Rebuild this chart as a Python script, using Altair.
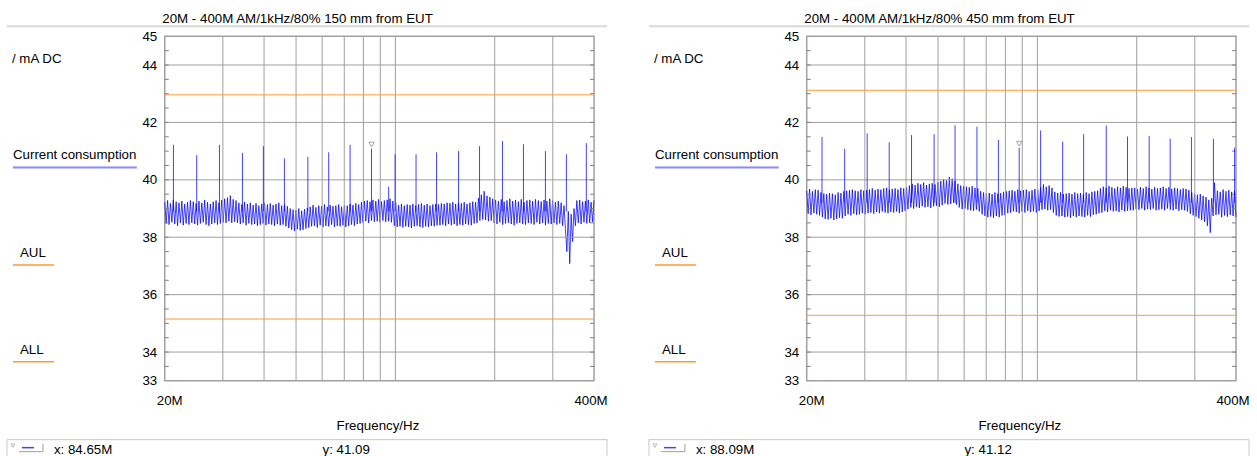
import altair as alt
import pandas as pd

FONT = "Liberation Sans, Arial, sans-serif"
FS = 13.33

# Current consumption (mA DC) over the sweep, antenna 150 mm from EUT
current_150 = [
    39.22, 38.48, 39.28, 38.44, 39.18, 38.52, 39.30, 38.46, 39.24, 38.40,
    39.20, 38.50, 39.26, 38.42, 39.16, 38.48, 39.22, 38.44, 39.28, 38.50,
    39.24, 38.46, 39.18, 38.42, 39.26, 38.48, 39.20, 38.52, 39.30, 38.44,
    39.22, 38.40, 39.16, 38.46, 39.24, 38.50, 39.28, 38.44, 39.20, 38.48,
    39.30, 38.52, 39.34, 38.50, 39.38, 38.56, 39.45, 38.50, 39.32, 38.54,
    39.28, 38.50,
    39.20, 38.46, 39.14, 38.50, 39.22, 38.42, 39.16, 38.48, 39.20, 38.44,
    39.12, 38.46, 39.18, 38.40, 39.10, 38.44, 39.16, 38.48, 39.20, 38.42,
    39.14, 38.46, 39.18, 38.44, 39.12, 38.40, 39.16, 38.46, 39.20, 38.42,
    39.10, 38.44, 39.14, 38.38, 39.08,
    38.32, 39.00, 38.26, 38.96, 38.22, 38.94, 38.28, 39.00, 38.24, 38.92,
    38.26, 38.98, 38.30, 39.02,
    38.34, 39.06, 38.38, 39.12, 38.40, 39.04, 38.34, 39.10, 38.42, 39.08,
    38.36, 39.14, 38.40, 39.06, 38.38, 39.12, 38.44, 39.08, 38.36, 39.10,
    38.40, 39.14, 38.38, 39.06, 38.42, 39.12, 38.36, 39.10, 38.40, 39.16,
    38.44, 39.12, 38.40, 39.18, 38.46, 39.14, 38.48,
    39.22, 38.52, 39.26, 38.56, 39.28, 38.50, 39.24, 38.58, 39.30, 38.54,
    39.26, 38.56, 39.32, 38.52, 39.24, 38.58, 39.28, 38.54, 39.30, 38.56,
    39.34, 38.52, 39.26,
    38.40, 39.20, 38.36, 39.12, 38.38, 39.16, 38.34, 39.10, 38.38, 39.14,
    38.36, 39.12, 38.32, 39.16, 38.38, 39.10, 38.40, 39.14, 38.36, 39.18,
    38.34, 39.12, 38.38, 39.16, 38.36, 39.10, 38.40, 39.14, 38.38, 39.16,
    38.42,
    39.14, 38.42, 39.18, 38.44, 39.16, 38.40, 39.20, 38.46, 39.18, 38.42,
    39.22, 38.46, 39.16, 38.40, 39.20, 38.44, 39.18, 38.42, 39.22, 38.46,
    39.16, 38.44, 39.20, 38.42, 39.24, 38.48, 39.22, 38.50,
    39.36, 38.58, 39.48, 38.62, 39.60, 38.60, 39.44, 38.56, 39.40, 38.58,
    39.34,
    38.50, 39.30, 38.46, 39.26, 38.52, 39.32, 38.44, 39.24, 38.48, 39.28,
    38.50, 39.34, 38.46, 39.26, 38.42, 39.30, 38.48, 39.24, 38.50, 39.32,
    38.46, 39.22, 38.44, 39.28, 38.50, 39.30, 38.48, 39.26, 38.44, 39.32,
    38.52, 39.28, 38.46, 39.24, 38.50, 39.30, 38.42, 39.26, 38.48, 39.34,
    38.46, 39.28, 38.50, 39.22, 38.44, 39.26, 38.48,
    39.20, 38.40, 39.10, 38.30, 37.50, 38.90, 37.08, 38.80, 37.85, 39.00,
    38.40,
    39.28, 38.50, 39.30, 38.46, 39.24, 38.52, 39.26, 38.48, 39.30, 38.50,
    39.22, 38.54, 39.28,
]

# Current consumption (mA DC) over the sweep, antenna 450 mm from EUT
current_450 = [
    39.62, 38.82, 39.68, 38.78, 39.60, 38.84, 39.66, 38.80, 39.64, 38.76,
    39.56, 38.70, 39.52, 38.64, 39.50, 38.62, 39.54, 38.66, 39.52, 38.60,
    39.48, 38.64, 39.56, 38.68, 39.54, 38.66,
    39.60, 38.74, 39.62, 38.80, 39.64, 38.76, 39.66, 38.82, 39.62, 38.78,
    39.60, 38.80, 39.66, 38.84, 39.62, 38.80, 39.64,
    38.84, 39.66, 38.86, 39.70, 38.82, 39.64, 38.88, 39.68, 38.84, 39.66,
    38.90, 39.70, 38.86, 39.72, 38.84, 39.66, 38.88, 39.68, 38.86, 39.70,
    38.90, 39.66, 38.84, 39.72, 38.88, 39.70, 38.92, 39.74,
    38.98, 39.80, 39.04, 39.86, 39.00, 39.82, 39.06, 39.88, 39.02, 39.84,
    39.08, 39.90, 39.04, 39.82, 39.06, 39.86, 39.02, 39.88, 39.08, 39.84,
    39.10, 39.92, 39.06,
    39.96, 39.12, 40.02, 39.18, 39.98, 39.14, 40.10, 39.16, 40.04, 39.20,
    39.96, 39.14,
    39.86, 39.04, 39.80, 38.98, 39.78, 39.00, 39.76, 38.96, 39.74, 38.94,
    39.78, 38.92, 39.72, 38.96, 39.70, 38.90,
    39.60, 38.80, 39.56, 38.74, 39.52, 38.70, 39.54, 38.72, 39.50, 38.68,
    39.56, 38.74, 39.52, 38.70, 39.54, 38.76, 39.58, 38.78, 39.60,
    38.84, 39.62, 38.86, 39.64, 38.90, 39.60, 38.88, 39.66, 38.84, 39.62,
    38.90, 39.64, 38.86, 39.66, 38.92, 39.60, 38.88, 39.64, 38.90, 39.68,
    38.86, 39.66, 38.92,
    39.74, 38.96, 39.84, 38.98, 39.76, 38.94, 39.80, 38.96, 39.72,
    38.86, 39.58, 38.76, 39.54, 38.72, 39.56, 38.74, 39.50, 38.70, 39.52,
    38.72, 39.54, 38.68, 39.50, 38.74, 39.56, 38.70, 39.52, 38.74, 39.54,
    38.72, 39.50, 38.70, 39.56, 38.76, 39.52, 38.72, 39.58, 38.78, 39.60,
    38.80, 39.62, 38.84,
    39.70, 38.86, 39.76, 38.92, 39.72, 38.88, 39.78, 38.94, 39.74, 38.90,
    39.70, 38.92, 39.76, 38.88, 39.72, 38.94, 39.78, 38.90, 39.74, 38.92,
    39.70, 38.94, 39.72,
    38.94, 39.72, 38.98, 39.68, 38.96, 39.74, 39.00, 39.70, 38.94, 39.76,
    38.98, 39.72, 38.96, 39.68, 39.00, 39.74, 38.94, 39.70, 38.96, 39.72,
    38.98, 39.76, 38.94, 39.70, 39.00, 39.74, 38.96, 39.68, 38.94, 39.72,
    38.98, 39.70, 38.92, 39.66, 38.96, 39.70, 38.94, 39.68, 38.90, 39.64,
    38.82, 39.56, 38.76, 39.52, 38.72, 39.48, 38.66, 39.50, 38.60, 39.44,
    38.54, 39.40, 38.40, 39.30, 38.16, 39.36,
    38.74, 39.90, 38.78, 39.62, 38.80, 39.58, 38.70, 39.66, 38.76, 39.60,
    38.72, 39.64, 38.78, 39.58, 38.74, 39.62, 38.70,
]

# Sweep frequencies: from 20 MHz in 1 % logarithmic steps
START_HZ = 20e6
STEP = 1.01

# Narrow peaks (frequency in MHz, peak current in mA)
peak_mhz_150 = [21.25, 25.0, 29.3, 34.4, 39.8, 46.1, 54.3, 62.8, 72.9, 95.4,
                99.8, 115.5, 133.3, 155.4, 179.9, 211.1, 244.4, 284.9, 329.8, 379.0]
peak_ma_150 = [41.22, 40.86, 41.22, 40.94, 41.17, 40.75, 40.80, 40.96, 41.22, 39.76,
               40.89, 40.89, 40.96, 41.00, 41.17, 41.35, 41.24, 41.00, 40.89, 41.28]
peak_mhz_450 = [22.25, 26.06, 30.5, 35.56, 41.56, 48.65, 56.3, 65.6, 76.2, 102.3,
                119.3, 138.1, 161.7, 187.6, 218.2, 252.6, 293.0, 341.6, 396.0]
peak_ma_450 = [41.49, 41.08, 41.62, 41.31, 41.56, 41.59, 41.90, 41.85, 41.39, 41.72,
               41.33, 41.59, 41.89, 41.51, 41.53, 41.43, 41.49, 41.43, 41.12]
peak_floor_150 = 38.9
peak_floor_450 = 39.2

# Marker readouts (frequency in MHz, current in mA)
marker_150 = (84.65, 41.09)
marker_450 = (88.09, 41.12)

# Upper / lower limits (AUL, ALL)
limits_150 = (42.96, 35.15)
limits_450 = (43.12, 35.28)

# Axes
y_label_values = [33, 34, 36, 38, 40, 42, 44, 45]
y_grid_values = [34, 36, 38, 40, 42, 44]
y_minor_values = [33 + 0.5 * i for i in range(1, 24)]
x_label_hz = [20e6, 400e6]
x_label_text = ["20M", "400M"]
x_grid_mhz = [30, 40, 50, 60, 70, 80, 90, 100, 200, 300]

W, H = 430, 345
GRID = "#a0a0a0"
ORANGE = "#ff9933"
BLUE = "#0000ff"

one = pd.DataFrame({"k": [0]})
x_scale = alt.Scale(type="log", domain=[20e6, 400e6], nice=False)
y_scale = alt.Scale(domain=[33, 45], nice=False, zero=False)

x_axis = alt.Axis(
    values=x_label_hz, labels=False, grid=False, ticks=False, tickSize=0, domain=False,
    title="Frequency/Hz", titleFont=FONT, titleFontSize=FS,
    titleFontWeight="normal", titleColor="black", titleBaseline="alphabetic",
    titleAlign="center", titleX=213, titleY=48.5)
y_axis = alt.Axis(
    values=y_label_values, format="d", grid=False, ticks=False, tickSize=0,
    domain=False, labelFlush=False, labelOverlap=False, labelPadding=8,
    labelFont=FONT, labelFontSize=FS, labelColor="black", title=None)


def xq(field="freq"):
    return alt.X(f"{field}:Q", scale=x_scale, axis=x_axis)


def yq(field="value"):
    return alt.Y(f"{field}:Q", scale=y_scale, axis=y_axis)


def label(txt, x, y, align="left", color="black"):
    return alt.Chart(one).mark_text(
        text=txt, align=align, baseline="alphabetic", font=FONT, fontSize=FS, color=color
    ).encode(x=alt.value(x), y=alt.value(y))


def seg(x1, x2, y1, y2, color, width=1.0):
    return alt.Chart(one).mark_rule(color=color, strokeWidth=width).encode(
        x=alt.value(x1), x2=alt.value(x2), y=alt.value(y1), y2=alt.value(y2)
    )


def panel(title, current, pk_mhz, pk_ma, pk_floor, marker, limits, corner):
    freq = [START_HZ * STEP ** n for n in range(len(current))]
    trace = pd.DataFrame({"freq": freq, "value": current})
    peaks = pd.DataFrame({
        "freq": [f * 1e6 for f in pk_mhz] + [marker[0] * 1e6],
        "value": pk_ma + [marker[1]],
    })
    mk = pd.DataFrame({"freq": [marker[0] * 1e6], "value": [marker[1]]})
    lim = pd.DataFrame({"value": list(limits)})
    hgrid = pd.DataFrame({"value": y_grid_values})
    vgrid = pd.DataFrame({"freq": [f * 1e6 for f in x_grid_mhz]})
    minor = pd.DataFrame({"value": y_minor_values})

    # invisible corner mark that pins the outer extent of the page
    anchor = alt.Chart(one).mark_rect(opacity=0).encode(
        x=alt.value(corner[0]), x2=alt.value(corner[0] + 1),
        y=alt.value(corner[1]), y2=alt.value(corner[1] + 1),
    )

    grid_h = alt.Chart(hgrid).mark_rule(color=GRID, strokeWidth=1).encode(y=yq())
    grid_v = alt.Chart(vgrid).mark_rule(color=GRID, strokeWidth=1).encode(x=xq())
    ticks_l = alt.Chart(minor).mark_rule(color="#808080").encode(
        x=alt.value(0), x2=alt.value(4), y=yq())
    ticks_r = alt.Chart(minor).mark_rule(color="#808080").encode(
        x=alt.value(W - 4), x2=alt.value(W), y=yq())
    limit_lines = alt.Chart(lim).mark_rule(color=ORANGE, strokeWidth=1).encode(y=yq())

    line = alt.Chart(trace).mark_line(color=BLUE, strokeWidth=1, opacity=0.75).encode(
        x=xq(), y=yq(), order="freq:Q")
    spikes = alt.Chart(peaks).mark_rule(color=BLUE, strokeWidth=1, opacity=0.75).encode(
        x=xq(), y=yq(), y2=alt.datum(pk_floor))
    marker_pt = alt.Chart(mk).mark_point(
        shape="triangle-down", filled=False, color="#808080", size=30,
        strokeWidth=1, yOffset=-4).encode(x=xq(), y=yq())

    # frequency labels at the ends of the log axis
    x_labels = [
        alt.Chart(pd.DataFrame({"freq": [hz], "txt": [txt]})).mark_text(
            baseline="alphabetic", font=FONT, fontSize=FS, color="black", dx=dx
        ).encode(x=xq(), y=alt.value(369), text="txt:N")
        for hz, txt, dx in zip(x_label_hz, x_label_text, (5, -3))
    ]

    header = [
        label(title, 133, -13, align="center"),
        seg(-158, 443, -10, -10, "#d8d8d8", 2),
    ]
    legend = [
        label("/ mA DC", -153, 26.5),
        label("Current consumption", -152, 122.5),
        seg(-152, -28, 131.5, 131.5, "#8888ff", 2),
        label("AUL", -145, 221),
        seg(-152, -111, 229, 229, ORANGE, 1.5),
        label("ALL", -145, 318.5),
        seg(-152, -111, 326, 326, ORANGE, 1.5),
    ]
    readout = [
        seg(-158, 443, 404, 404, "#c8c8c8"),
        seg(-158, -158, 404, 420, "#c8c8c8"),
        seg(443, 443, 404, 420, "#c8c8c8"),
        alt.Chart(one).mark_point(shape="triangle-down", filled=False, color="#a0a0a0",
                                  size=16, strokeWidth=1).encode(
            x=alt.value(-152), y=alt.value(410)),
        seg(-143, -131, 412, 412, "#4040ff", 1.5),
        seg(-146, -122, 416, 416, "#a0a0a0"),
        seg(-122, -122, 408, 416, "#a0a0a0"),
        label(f"x: {marker[0]:.2f}M", -111, 418),
        label(f"y: {marker[1]:.2f}", 158, 418),
    ]

    return alt.layer(
        line, anchor, grid_h, grid_v, ticks_l, ticks_r, limit_lines, spikes, marker_pt,
        *x_labels, *header, *legend, *readout,
    ).properties(width=W, height=H)


left = panel("20M - 400M AM/1kHz/80% 150 mm from EUT", current_150,
             peak_mhz_150, peak_ma_150, peak_floor_150, marker_150, limits_150,
             (-164, -35))
right = panel("20M - 400M AM/1kHz/80% 450 mm from EUT", current_450,
              peak_mhz_450, peak_ma_450, peak_floor_450, marker_450, limits_450,
              (449, 420))

chart = alt.hconcat(left, right, spacing=213, bounds="flush").properties(
    padding=0, background="white",
).configure_view(stroke="#a0a0a0", strokeWidth=1.5)

chart.save("out.html", embed_options={"renderer": "svg", "actions": False})
